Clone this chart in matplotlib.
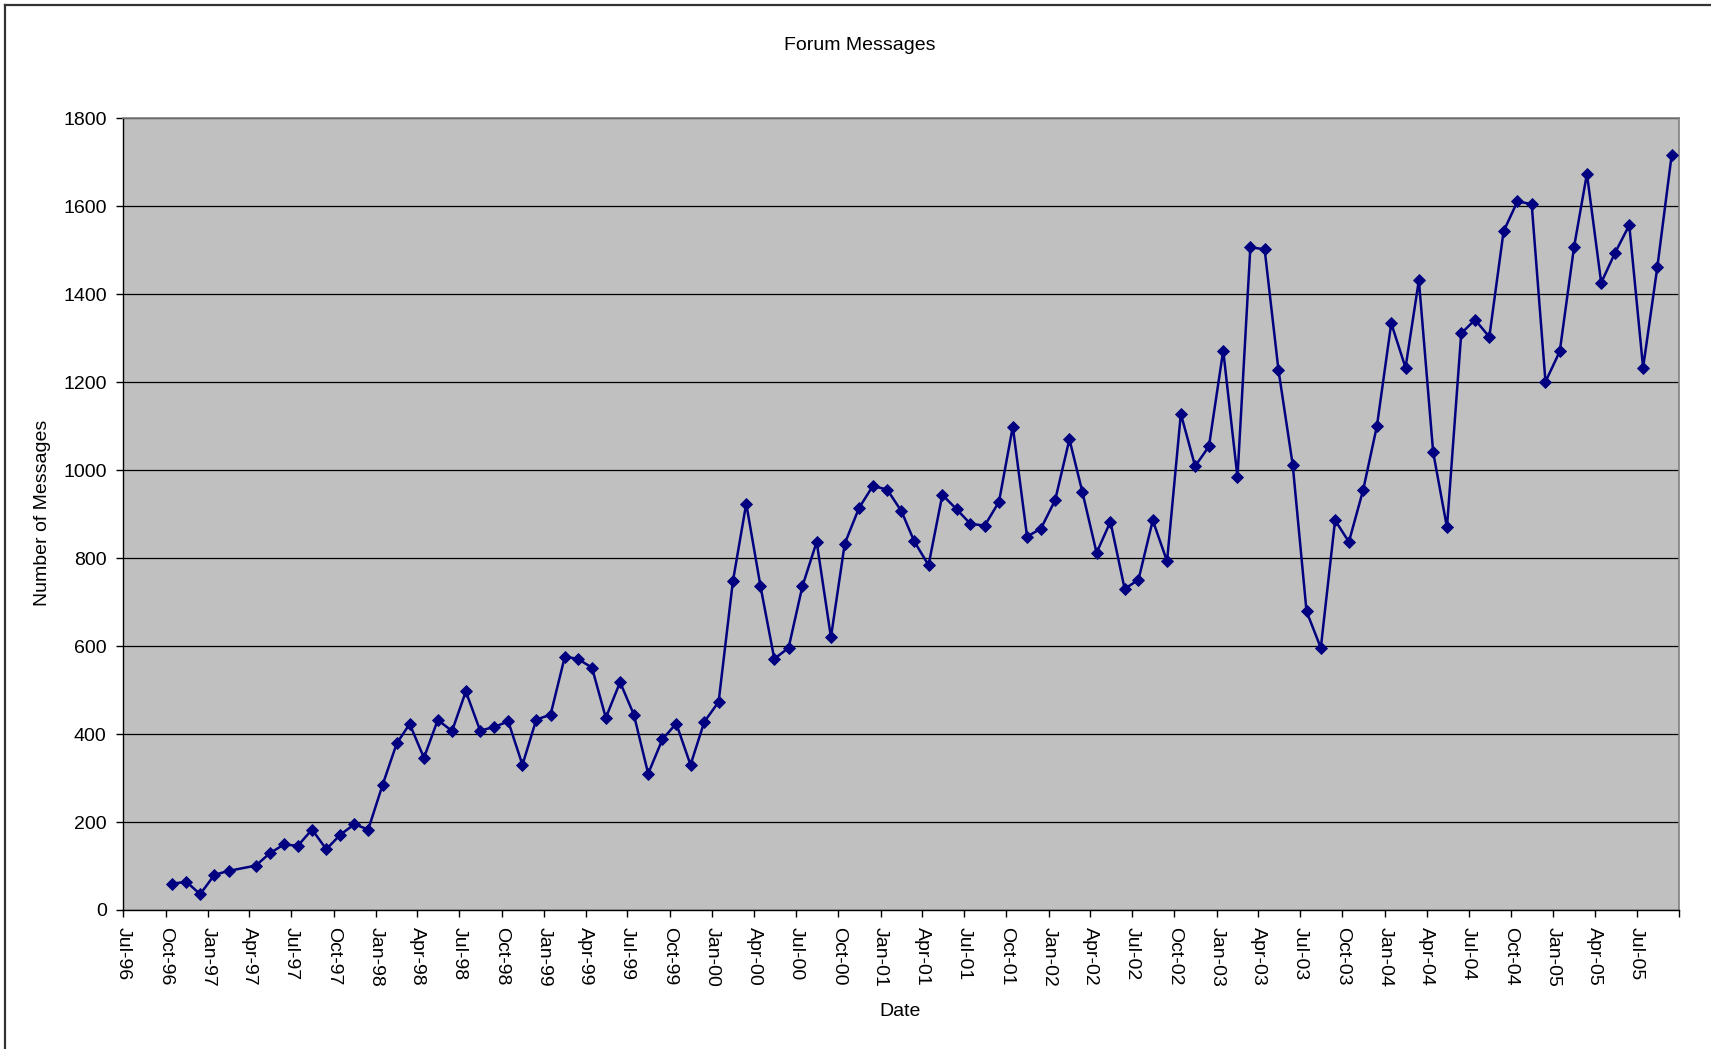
import matplotlib
matplotlib.use("Agg")
import matplotlib.pyplot as plt
from matplotlib.lines import Line2D
import pandas as pd

# Monthly forum message counts (March 1997 has no entry)
early_months = ["1996-10", "1996-11", "1996-12", "1997-01", "1997-02"]
later_start, later_end = "1997-04", "2005-09"

messages = [
    60, 64, 36, 80, 89,
    101, 129, 149, 146, 183, 138, 171, 195, 183,
    284, 379, 423, 346, 432, 407, 497, 408, 416, 429, 330, 433,
    444, 576, 571, 551, 437, 518, 444, 310, 388, 424, 330, 428,
    473, 747, 924, 736, 571, 596, 736, 837, 620, 833, 914, 964,
    956, 907, 838, 784, 944, 911, 878, 874, 928, 1099, 849, 867,
    932, 1070, 951, 812, 883, 730, 751, 886, 793, 1128, 1009, 1054,
    1272, 984, 1507, 1502, 1228, 1012, 679, 596, 886, 837, 955, 1101,
    1334, 1233, 1432, 1041, 870, 1311, 1342, 1303, 1543, 1611, 1605, 1201,
    1270, 1507, 1674, 1426, 1494, 1557, 1233, 1462, 1716,
]

y_ticks = [0, 200, 400, 600, 800, 1000, 1200, 1400, 1600, 1800]
axis_start, axis_end = "1996-07-01", "2005-10-01"

title_text = "Forum Messages"
x_title = "Date"
y_title = "Number of Messages"

# Each month's count is dated mid-month
month_periods = list(pd.PeriodIndex(early_months, freq="M")) + list(
    pd.period_range(later_start, later_end, freq="M"))
dates = [p.to_timestamp() + pd.Timedelta(days=14) for p in month_periods]

plt.rcParams["font.family"] = ["Liberation Sans", "DejaVu Sans"]

W, H = 1711, 1049
fig = plt.figure(figsize=(W / 100, H / 100), dpi=100)
fig.patch.set_facecolor("white")

left, right, top, bottom = 123.3, 1679, 118.3, 910
ax = fig.add_axes([left / W, 1 - bottom / H, (right - left) / W, (bottom - top) / H])
ax.set_facecolor("#C0C0C0")

ax.plot(dates, messages, color="#000080", linewidth=1.8, marker="D",
        markersize=6.4, markerfacecolor="#000080", markeredgecolor="#000080",
        markeredgewidth=0.6, zorder=3)

ax.set_ylim(0, 1800)
ax.set_yticks(y_ticks)
ax.set_yticklabels([str(v) for v in y_ticks])
ax.yaxis.grid(True, color="black", linewidth=0.9)
ax.set_axisbelow(True)

ax.set_xlim(pd.Timestamp(axis_start), pd.Timestamp(axis_end))
quarter_ticks = pd.date_range(axis_start, axis_end, freq="QS-JAN")
ax.set_xticks(quarter_ticks)
ax.set_xticklabels([d.strftime("%b-%y") for d in quarter_ticks[:-1]] + [""],
                   rotation=-90, ha="center", va="top")

ax.tick_params(axis="both", direction="out", length=5, width=1, color="black",
               labelsize=14, pad=7, labelcolor="black")

for side in ("top", "right"):
    ax.spines[side].set_color("#808080")
    ax.spines[side].set_linewidth(1.2)
for side in ("left", "bottom"):
    ax.spines[side].set_color("black")
    ax.spines[side].set_linewidth(1.0)

fig.text(860 / W, 1 - 45 / H, title_text, ha="center", va="center", fontsize=14)
fig.text(900 / W, 1 - 1011 / H, x_title, ha="center", va="center", fontsize=14)
fig.text(43 / W, 1 - 513 / H, y_title, ha="center", va="center", fontsize=14,
         rotation=90)

# Chart frame along the left and top edges
fig.add_artist(Line2D([4.7 / W, 4.7 / W], [0, 1 - 4.7 / H], transform=fig.transFigure,
                      color="#333333", linewidth=1.6))
fig.add_artist(Line2D([4.7 / W, 1], [1 - 4.7 / H, 1 - 4.7 / H], transform=fig.transFigure,
                      color="#333333", linewidth=1.6))

fig.savefig("out.png", dpi=100)
